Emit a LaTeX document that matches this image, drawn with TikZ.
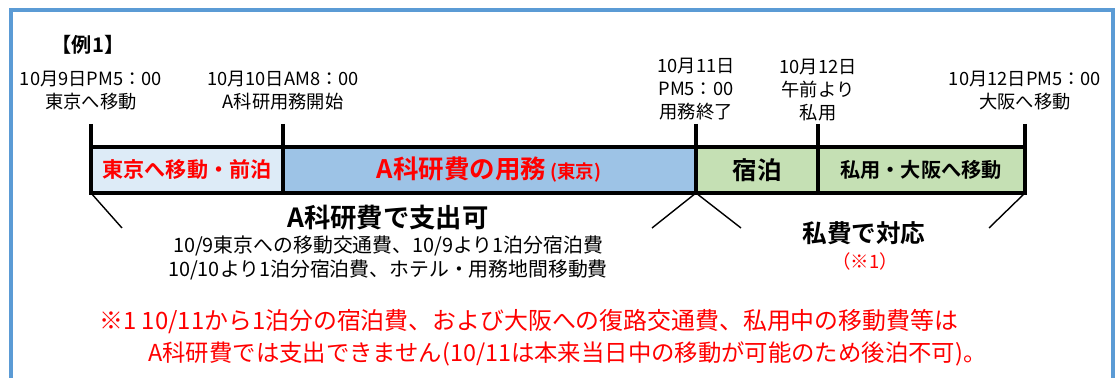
\documentclass[tikz,border=0pt]{standalone}
\usepackage{fontspec}
\setmainfont{Noto Sans CJK JP}[BoldFont={Noto Sans CJK JP Bold}]
\usetikzlibrary{positioning}
\definecolor{frameblue}{HTML}{5B9BD5}
\definecolor{segpale}{HTML}{DDEBF7}
\definecolor{segblue}{HTML}{9DC3E6}
\definecolor{seggreen}{HTML}{C5E0B4}
\newcommand{\fsz}[1]{\fontsize{#1}{#1}\selectfont}

\begin{document}
\begin{tikzpicture}[x=0.02cm,y=-0.02cm,
    lbl/.style={align=center,inner sep=0pt,font=\fontsize{10.4}{13}\selectfont},
    segtext/.style={inner sep=0pt,font=\fsz{11.5}\bfseries},
    tick/.style={line width=2.2pt},
    brace/.style={line width=0.8pt},
    note/.style={anchor=west,inner sep=0pt,red,font=\fsz{13.6}}]
    \useasboundingbox (0,0) rectangle (1117,378);
    \draw[frameblue,line width=2.3pt] (11,380) -- (11,10) -- (1113,10) -- (1113,380);

    % time points on the bar
    \foreach \i/\X in {1/91,2/283,3/696,4/818,5/1025} {
        \coordinate (u\i) at (\X,124);
        \coordinate (p\i) at (\X,147);
        \coordinate (q\i) at (\X,193);}

    \draw[tick,fill=segpale] (p1) rectangle (q2);
    \draw[tick,fill=segblue] (p2) rectangle (q3);
    \draw[tick,fill=seggreen] (p3) rectangle (q4);
    \draw[tick,fill=seggreen] (p4) rectangle (q5);
    \foreach \i in {1,...,5} {
        \draw[tick] (u\i) -- (p\i);}

    % brackets under the bar
    \coordinate (b1) at (122,228);
    \coordinate (b2) at (652,228);
    \coordinate (b3) at (741,228);
    \coordinate (b4) at (989,228);
    \draw[brace] (q1) -- (b1);
    \draw[brace] (b2) -- (q3) -- (b3);
    \draw[brace] (q5) -- (b4);

    \node[inner sep=0pt,font=\fsz{11.5}\bfseries] (ex) at (88,45) {【例1】};
    \node[lbl] (l1) at (91,91) {10月9日PM5：00\\東京へ移動};
    \node[lbl] (l2) at (283,91) {10月10日AM8：00\\A科研用務開始};
    \node[lbl] (l3) at (696,89) {10月11日\\PM5：00\\用務終了};
    \node[lbl] (l4) at (818,90) {10月12日\\午前より\\私用};
    \node[lbl] (l5) at (1025,91) {10月12日PM5：00\\大阪へ移動};

    \node[segtext,font=\fsz{12}\bfseries,red] (s1) at (187,170) {東京へ移動・前泊};
    \node[segtext,red,font=\fsz{14.5}\bfseries] (s2) at (489,170) {A科研費の用務\,{\fsz{10.5}(東京)}};
    \node[segtext,font=\fsz{14}\bfseries] (s3) at (757,170) {宿泊};
    \node[segtext] (s4) at (921,170) {私用・大阪へ移動};

    \node[inner sep=0pt,font=\fsz{15}\bfseries] (ok) at (388,218) {A科研費で支出可};
    \node[inner sep=0pt,align=center,font=\fontsize{11.3}{13.6}\selectfont] (okd) at (388,258)
        {10/9東京への移動交通費、10/9より1泊分宿泊費\\10/10より1泊分宿泊費、ホテル・用務地間移動費};
    \node[inner sep=0pt,font=\fsz{14}\bfseries] (ng) at (864,233) {私費で対応};
    \node[inner sep=0pt,red,font=\fsz{10.5}] (ngn) at (865,261) {（※1）};

    \node[note] (n1) at (99,322) {※1 10/11から1泊分の宿泊費、および大阪への復路交通費、私用中の移動費等は};
    \node[note,font=\fsz{13.3}] (n2) at (148,354) {A科研費では支出できません(10/11は本来当日中の移動が可能のため後泊不可)。};
\end{tikzpicture}
\end{document}
